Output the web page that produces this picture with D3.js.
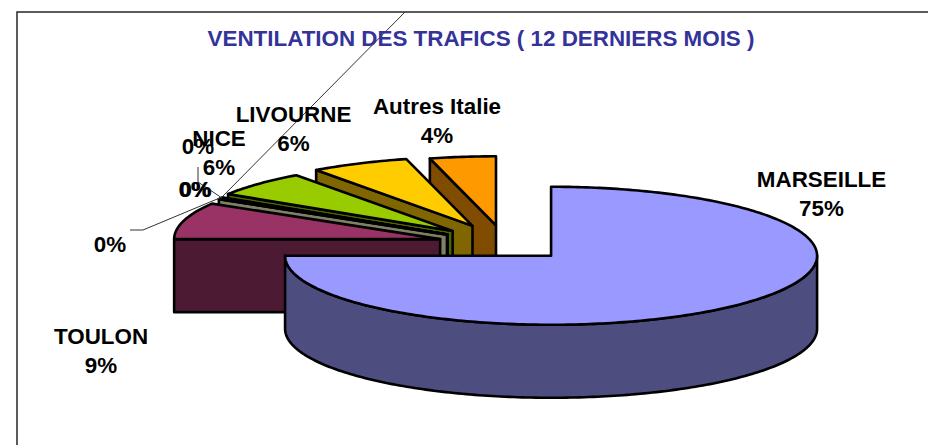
<!DOCTYPE html>
<html>
<head>
<meta charset="utf-8">
<script src="https://cdn.jsdelivr.net/npm/d3@7"></script>
<style>
    html, body { margin: 0; padding: 0; background: #fff; overflow: hidden; }
    text { font-family: "Liberation Sans", Arial, sans-serif; font-weight: bold; }
</style>
</head>
<body>
<div id="chart"></div>
<script>
const titleText = "VENTILATION DES TRAFICS ( 12 DERNIERS MOIS )"

// clockwise from 12 o'clock, the order of the sheet
const categories = ["MARSEILLE", "TOULON", "", "", "", "", "NICE", "LIVOURNE", "Autres Italie"]
const shares = [75, 8.6, 0.1, 0.1, 0.1, 0.1, 6, 6, 4]
const explode = [0.245, 0.253, 0.255, 0.255, 0.255, 0.255, 0.27, 0.287, 0.27]
const topColors = ["#9999FF", "#993366", "#FFFFCC", "#CCFFFF", "#660066", "#FF8080", "#99CC00", "#FFCC00", "#FF9900"]

const width = 928
const height = 445
const center = { x: 505, y: 243.8 }
const rx = 266
const ry = 69
const depth = 73

// label anchors, same order as categories
const labelPos = [
    [821.5, 187], [101, 344], [110, 252], [198, 154], [194.6, 197], [195.6, 197],
    [219, 146], [293.5, 122], [437, 114]
]
const lineGap = 29

// leader lines for the tiny slices
const leaders = [
    [[222, 197], [143, 230], [130, 230]],
    [[222, 198], [198, 182], [198, 167]],
    [[222, 197], [405, 12]]
]

const svg = d3.select("#chart").append("svg")
    .attr("width", width)
    .attr("height", height)

svg.append("rect")
    .attr("x", 17)
    .attr("y", 12)
    .attr("width", width + 40)
    .attr("height", height + 40)
    .attr("fill", "#fff")
    .attr("stroke", "#333")
    .attr("stroke-width", 1.6)

const pie = d3.pie().sort(null).value(d => d)
const slices = pie(shares).map((d, i) => {
    const mid = (d.startAngle + d.endAngle) / 2
    return {
        ...d,
        i,
        ax: center.x + explode[i] * rx * Math.sin(mid),
        ay: center.y - explode[i] * ry * Math.cos(mid)
    }
})

const line = d3.line()
const rim = (s, a, dy = 0) => [s.ax + rx * Math.sin(a), s.ay - ry * Math.cos(a) + dy]

function arcPoints(s, a0, a1, dy = 0) {
    const n = Math.max(2, Math.ceil((a1 - a0) * 60))
    return d3.range(n + 1).map(k => rim(s, a0 + (a1 - a0) * k / n, dy))
}

const darker = c => {
    const col = d3.rgb(c)
    return d3.rgb(col.r / 2, col.g / 2, col.b / 2).formatHex()
}

const pieGroup = svg.append("g")
    .attr("stroke", "#000")
    .attr("stroke-width", 2.6)
    .attr("stroke-linejoin", "round")

// back slices first, the big one goes on top
slices.slice().reverse().forEach(s => {
    const g = pieGroup.append("g")
    const fill = topColors[s.i]
    const side = darker(fill)

    const wall = a => g.append("path")
        .attr("d", line([[s.ax, s.ay], rim(s, a), rim(s, a, depth), [s.ax, s.ay + depth]]) + "Z")
        .attr("fill", side)

    if (Math.sin(s.startAngle) < -1e-6) wall(s.startAngle)
    if (Math.sin(s.endAngle) > 1e-6) wall(s.endAngle)

    const a0 = Math.max(s.startAngle, Math.PI / 2)
    const a1 = Math.min(s.endAngle, Math.PI * 1.5)
    if (a1 > a0) {
        const pts = arcPoints(s, a0, a1).concat(arcPoints(s, a0, a1, depth).reverse())
        g.append("path")
            .attr("d", line(pts) + "Z")
            .attr("fill", side)
    }

    const face = [[s.ax, s.ay]].concat(arcPoints(s, s.startAngle, s.endAngle))
    g.append("path")
        .attr("d", line(face) + "Z")
        .attr("fill", fill)
})

svg.append("g")
    .selectAll("path")
    .data(leaders)
    .enter()
    .append("path")
    .attr("d", d => line(d))
    .attr("fill", "none")
    .attr("stroke", "#333")
    .attr("stroke-width", 1)

svg.append("text")
    .attr("x", 481)
    .attr("y", 46)
    .attr("text-anchor", "middle")
    .attr("font-size", 22.4)
    .attr("fill", "#333399")
    .text(titleText)

const pct = d3.format(".0%")
const total = d3.sum(shares)

const labels = svg.append("g")
    .attr("font-size", 22.4)
    .attr("fill", "#000")
    .attr("text-anchor", "middle")

slices.forEach(s => {
    const [x, y] = labelPos[s.i]
    const name = categories[s.i]
    if (name) {
        labels.append("text").attr("x", x).attr("y", y).text(name)
        labels.append("text").attr("x", x).attr("y", y + lineGap).text(pct(s.data / total))
    } else {
        labels.append("text").attr("x", x).attr("y", y).text(pct(s.data / total))
    }
})
</script>
</body>
</html>
